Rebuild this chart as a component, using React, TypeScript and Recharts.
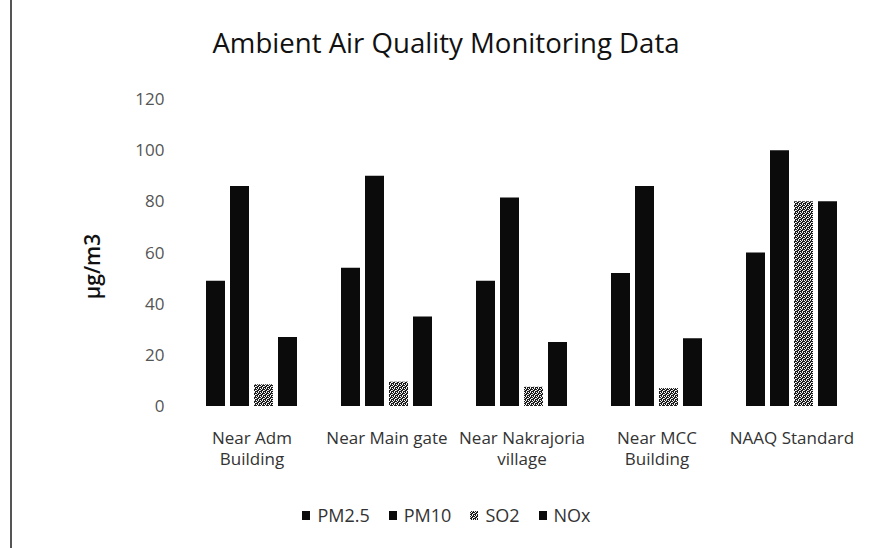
import React from "react";
import { BarChart, Bar, XAxis, YAxis, Legend } from "recharts";

const categories = [
  "Near Adm\nBuilding",
  "Near Main gate",
  "Near Nakrajoria\nvillage",
  "Near MCC\nBuilding",
  "NAAQ Standard",
];
const pm25 = [49, 54, 49, 52, 60];
const pm10 = [86, 90, 81.5, 86, 100];
const so2 = [8.5, 9.5, 7.5, 7, 80];
const nox = [27, 35, 25, 26.5, 80];
const yTicks = [0, 20, 40, 60, 80, 100, 120];

const seriesList = [
  { key: "pm25", name: "PM2.5", fill: "#0b0b0b" },
  { key: "pm10", name: "PM10", fill: "#0b0b0b" },
  { key: "so2", name: "SO2", fill: "url(#so2Dots)" },
  { key: "nox", name: "NOx", fill: "#0b0b0b" },
];

const data = categories.map((c, i) => ({
  site: c,
  pm25: pm25[i],
  pm10: pm10[i],
  so2: so2[i],
  nox: nox[i],
}));

const FONT = "'Open Sans', sans-serif";

// two-line category labels, split on \n
function SiteTick(props: any) {
  const { x, y, payload } = props;
  const lines = String(payload.value).split("\n");
  return (
    <g>
      {lines.map((ln, i) => (
        <text key={i} x={x} y={y + 30 + i * 21} textAnchor="middle" fill="#333" fontSize={17} fontFamily={FONT}>
          {ln}
        </text>
      ))}
    </g>
  );
}

function UnitLabel(props: any) {
  const { viewBox } = props;
  const cx = viewBox.x - 33;
  const cy = viewBox.y + viewBox.height / 2 + 14;
  return (
    <text x={cx} y={cy} transform={`rotate(-90 ${cx} ${cy})`} textAnchor="middle" dominantBaseline="central"
      fontSize={21} fontWeight={600} fill="#111" fontFamily={FONT}>
      µg/m3
    </text>
  );
}

function DotSwatch({ id }: { id: string }) {
  return (
    <pattern id={id} width="4" height="4" patternUnits="userSpaceOnUse">
      <rect width="4" height="4" fill="#1c1c1c" />
      <rect x="0" y="0" width="1" height="1" fill="#fff" />
      <rect x="2" y="0" width="1" height="1" fill="#ddd" />
      <rect x="1" y="1" width="1" height="1" fill="#fff" />
      <rect x="3" y="2" width="1" height="1" fill="#fff" />
      <rect x="0" y="2" width="1" height="1" fill="#ccc" />
      <rect x="2" y="3" width="1" height="1" fill="#fff" />
    </pattern>
  );
}

function renderLegend() {
  return (
    <div style={{ display: "flex", justifyContent: "center", paddingLeft: 42, fontFamily: FONT, fontSize: 18, color: "#333" }}>
      {seriesList.map((s) => (
        <div key={s.key} style={{ display: "flex", alignItems: "center", marginRight: 19 }}>
          <svg width={8} height={9} style={{ marginRight: 7 }}>
            <defs>
              <DotSwatch id={"lg-" + s.key} />
            </defs>
            <rect width={8} height={9} fill={s.key === "so2" ? "url(#lg-so2)" : s.fill} />
          </svg>
          <span>{s.name}</span>
        </div>
      ))}
    </div>
  );
}

export default function App() {
  return (
    <div style={{ position: "absolute", left: 0, top: 0, width: 870, height: 548, background: "#fff", overflow: "hidden" }}>
      <div style={{ position: "absolute", left: 10, top: 0, width: 1.5, height: 548, background: "#555" }} />
      <div style={{ position: "absolute", left: 0, top: 29, width: 892, textAlign: "center", fontFamily: FONT, fontSize: 27.6, lineHeight: 1, color: "#111" }}>
        Ambient Air Quality Monitoring Data
      </div>
      <BarChart
        width={870}
        height={548}
        data={data}
        margin={{ top: 99, right: 10.5, bottom: 48, left: 124.5 }}
        barCategoryGap={21.5}
        barGap={5}
      >
        <defs>
          <DotSwatch id="so2Dots" />
        </defs>
        <XAxis dataKey="site" axisLine={false} tickLine={false} height={70} tick={<SiteTick />} interval={0} />
        <YAxis
          width={60}
          domain={[0, 120]}
          ticks={yTicks}
          axisLine={false}
          tickLine={false}
          tickMargin={14}
          tick={{ fill: "#555", fontSize: 17, fontFamily: FONT }}
          label={<UnitLabel />}
        />
        <Legend
          verticalAlign="bottom"
          content={renderLegend}
          wrapperStyle={{ left: 0, width: 870, top: 503, bottom: "auto", height: 24 }}
        />
        {seriesList.map((s) => (
          <Bar key={s.key} dataKey={s.key} name={s.name} fill={s.fill} isAnimationActive={false} />
        ))}
      </BarChart>
    </div>
  );
}
